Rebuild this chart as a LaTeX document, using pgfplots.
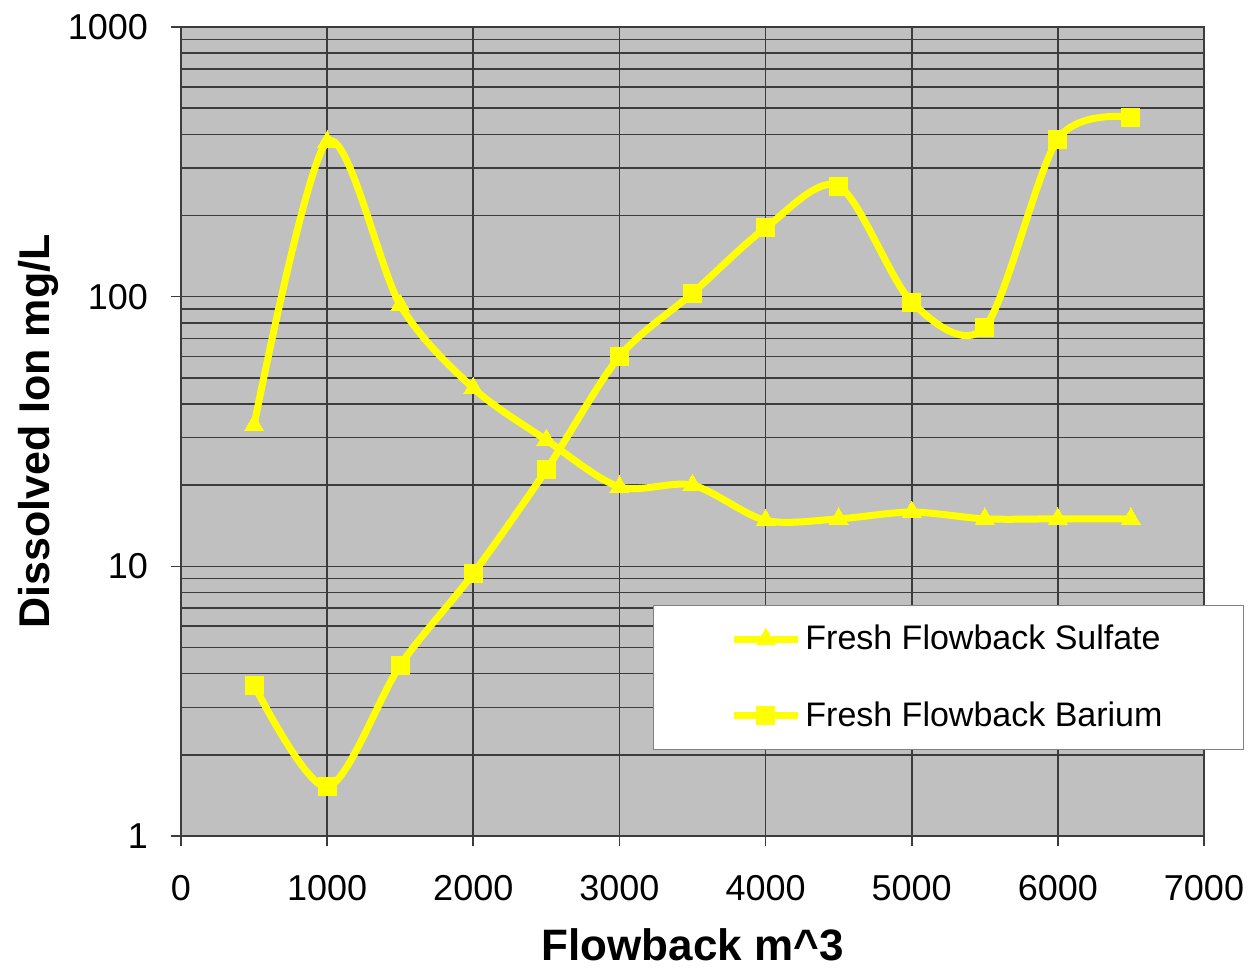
\documentclass[border=0pt]{standalone}
\usepackage{fontspec}
\setmainfont{Liberation Sans}
\usepackage{pgfplots}
\pgfplotsset{compat=1.18}
\definecolor{bg}{RGB}{192,192,192}
\definecolor{gridc}{RGB}{60,60,60}
\definecolor{yel}{RGB}{255,255,0}
\begin{document}
\begin{tikzpicture}
\begin{axis}[
 at={(0,0)}, anchor=south west,
 scale only axis, width=511.5pt, height=404.5pt,
 ymode=log, xmin=0, xmax=7000, ymin=1, ymax=1000,
 xtick={0,1000,...,7000},
 ytick={1,10,100,1000}, yticklabels={1,10,100,1000},
 /pgf/number format/assume math mode=true,
 /pgf/number format/1000 sep={},
 axis background/.style={fill=bg},
 xmajorgrids, ymajorgrids, yminorgrids,
 major grid style={gridc, line width=0.8pt},
 minor grid style={gridc, line width=0.8pt},
 tick align=outside, xtick pos=bottom, ytick pos=left,
 major tick length=5pt, minor tick length=0pt,
 tick style={gridc, line width=0.8pt},
 axis line style={gridc, line width=1pt},
 ticklabel style={font=\fontsize{18}{20}\selectfont},
 xticklabel style={yshift=-11pt},
 yticklabel style={xshift=-8pt},
 xlabel={Flowback m\textasciicircum 3},
 ylabel={Dissolved Ion mg/L},
 label style={font=\bfseries\fontsize{21.5}{24}\selectfont},
 x label style={at={(axis description cs:0.5,-0.1347)}, anchor=center, font=\bfseries\fontsize{22}{24}\selectfont},
 y label style={at={(axis description cs:-0.1397,0.5)}, anchor=center},
 legend style={at={(axis description cs:0.4614,0.1063)}, anchor=south west,
   draw=gray, fill=white, font=\fontsize{17}{20}\selectfont,
   inner xsep=38.5pt, inner ysep=8pt, row sep=20.5pt},
 legend cell align=left,
 legend image code/.code={\draw[mark repeat=2,mark phase=2] plot coordinates {(0pt,0pt) (16pt,0pt) (32pt,0pt)};},
]
\addplot[yel, line width=3.5pt, smooth, mark=triangle*, mark size=5.5pt, mark options={fill=yel, draw=yel, line width=0pt}] coordinates {
(500,33.4) (1000,375) (1500,93) (2000,45.8) (2500,29.4) (3000,19.7) (3500,20) (4000,14.8) (4500,15) (5000,15.9) (5500,15) (6000,15) (6500,15)
};
\addlegendentry{Fresh Flowback Sulfate}
\addplot[yel, line width=3.5pt, smooth, mark=square*, mark size=4.5pt, mark options={fill=yel, draw=yel, line width=0pt}] coordinates {
(500,3.63) (1000,1.52) (1500,4.3) (2000,9.4) (2500,22.8) (3000,60) (3500,103) (4000,180) (4500,257) (5000,95.5) (5500,77) (6000,384) (6500,463)
};
\addlegendentry{Fresh Flowback Barium}
\end{axis}
\pgfresetboundingbox
\path[use as bounding box] (-90.5pt,-68pt) rectangle (539pt,418pt);
\end{tikzpicture}
\end{document}
